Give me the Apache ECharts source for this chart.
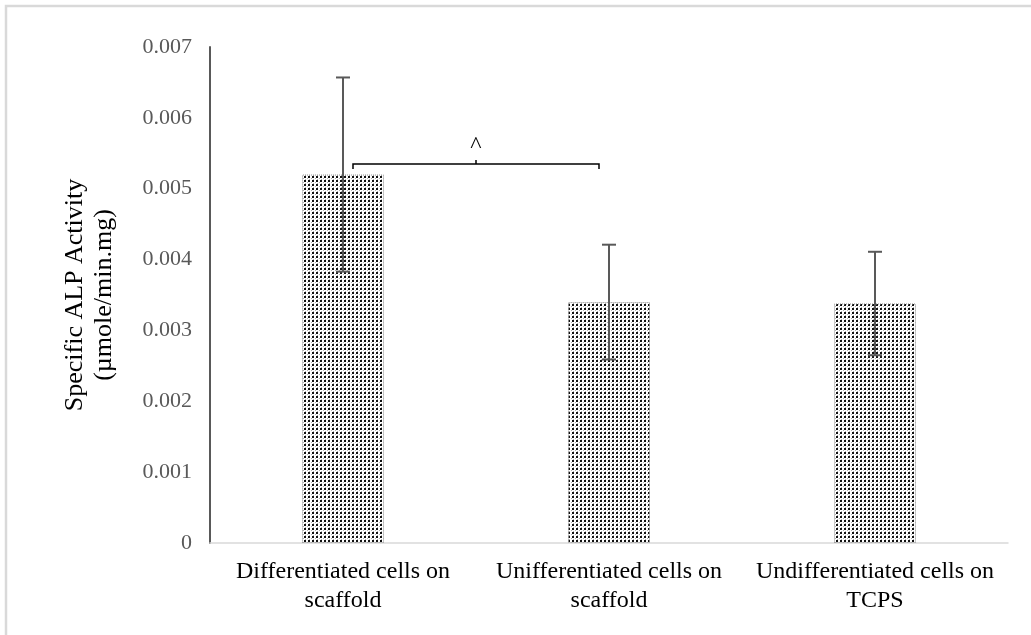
<!DOCTYPE html>
<html>
<head>
<meta charset="utf-8">
<script src="https://cdn.jsdelivr.net/npm/echarts@6/dist/echarts.min.js"></script>
<style>
  html, body { margin: 0; padding: 0; background: #fff; }
  #chart { width: 1031px; height: 635px; }
</style>
</head>
<body>
<div id="chart"></div>
<script>
// Groups along the x axis
const categories = [
  'Differentiated cells on\nscaffold',
  'Unifferentiated cells on\nscaffold',
  'Undifferentiated cells on\nTCPS'
];
// Mean specific ALP activity (µmole/min.mg)
const activity = [0.0052, 0.0034, 0.00338];
// Error bar half-lengths
const errors = [0.00137, 0.00081, 0.00073];
// Significance bracket between the first two groups
const bracketFrom = 0;
const bracketTo = 1;
const bracketLevel = 0.00535;
const bracketMarkLevel = 0.0056;
const bracketMark = '^';
// Y axis range
const yMin = 0;
const yMax = 0.007;
const yStep = 0.001;

const serif = '"Liberation Serif", "Times New Roman", serif';

// Dotted fill for the columns
function dotPattern() {
  const c = document.createElement('canvas');
  c.width = 4; c.height = 4;
  const g = c.getContext('2d');
  g.fillStyle = '#ffffff';
  g.fillRect(0, 0, 4, 4);
  g.fillStyle = '#111111';
  g.fillRect(0, 0, 2, 2);
  g.fillStyle = '#b0b0b0';
  g.fillRect(3, 2, 1, 1);
  g.fillRect(1, 3, 1, 1);
  return c;
}

const errorData = activity.map((v, i) => [i, v - errors[i], v + errors[i]]);

const chart = echarts.init(document.getElementById('chart'), null, { renderer: 'canvas' });

chart.setOption({
  animation: false,
  backgroundColor: '#ffffff',
  graphic: [{
    type: 'rect',
    shape: { x: 6, y: 6, width: 1060, height: 680 },
    style: { fill: 'none', stroke: '#d9d9d9', lineWidth: 2.5 },
    silent: true
  }],
  grid: { left: 210, right: 23, top: 47, bottom: 92, containLabel: false },
  xAxis: {
    type: 'category',
    data: categories,
    axisLine: { lineStyle: { color: '#d9d9d9', width: 1.5 } },
    axisTick: { show: false },
    axisLabel: {
      color: '#000000',
      fontFamily: serif,
      fontSize: 24,
      lineHeight: 29,
      margin: 14,
      interval: 0
    }
  },
  yAxis: {
    type: 'value',
    min: yMin,
    max: yMax,
    interval: yStep,
    name: 'Specific ALP Activity\n(µmole/min.mg)',
    nameLocation: 'middle',
    nameRotate: 90,
    nameGap: 91,
    nameTextStyle: {
      color: '#000000',
      fontFamily: serif,
      fontSize: 26,
      lineHeight: 29
    },
    axisLine: { show: true, lineStyle: { color: '#595959', width: 2 } },
    axisTick: { show: false },
    splitLine: { show: false },
    axisLabel: {
      color: '#595959',
      fontFamily: serif,
      fontSize: 22,
      margin: 18,
      formatter: v => (v === 0 ? '0' : v.toFixed(3))
    }
  },
  series: [
    {
      type: 'bar',
      data: activity,
      barWidth: 82,
      itemStyle: {
        color: { image: dotPattern(), repeat: 'repeat' },
        borderColor: '#8c8c8c',
        borderWidth: 1,
        borderType: 'dotted'
      }
    },
    {
      type: 'custom',
      data: errorData,
      clip: false,
      z: 5,
      renderItem: function (params, api) {
        const cat = api.value(0);
        const lo = api.coord([cat, api.value(1)]);
        const hi = api.coord([cat, api.value(2)]);
        const half = 7;
        const style = { stroke: '#595959', lineWidth: 2 };
        return {
          type: 'group',
          children: [
            { type: 'line', shape: { x1: lo[0], y1: lo[1], x2: hi[0], y2: hi[1] }, style },
            { type: 'line', shape: { x1: hi[0] - half, y1: hi[1], x2: hi[0] + half, y2: hi[1] }, style },
            { type: 'line', shape: { x1: lo[0] - half, y1: lo[1], x2: lo[0] + half, y2: lo[1] }, style }
          ]
        };
      }
    },
    {
      type: 'custom',
      data: [[bracketFrom, bracketTo, bracketLevel, bracketMarkLevel]],
      clip: false,
      z: 6,
      renderItem: function (params, api) {
        const a = api.coord([api.value(0), api.value(2)]);
        const b = api.coord([api.value(1), api.value(2)]);
        const m = api.coord([api.value(0), api.value(3)]);
        const x1 = a[0] + 10, x2 = b[0] - 10, y = a[1];
        const xm = (a[0] + b[0]) / 2;
        const style = { stroke: '#000000', lineWidth: 1.5, fill: 'none' };
        return {
          type: 'group',
          children: [
            { type: 'polyline', shape: { points: [[x1, y + 5], [x1, y], [x2, y], [x2, y + 5]] }, style },
            { type: 'line', shape: { x1: xm, y1: y, x2: xm, y2: y - 4 }, style },
            {
              type: 'text',
              style: {
                text: bracketMark,
                x: xm, y: m[1],
                align: 'center', verticalAlign: 'middle',
                font: '24px ' + serif,
                fill: '#000000'
              }
            }
          ]
        };
      }
    }
  ]
});
</script>
</body>
</html>
